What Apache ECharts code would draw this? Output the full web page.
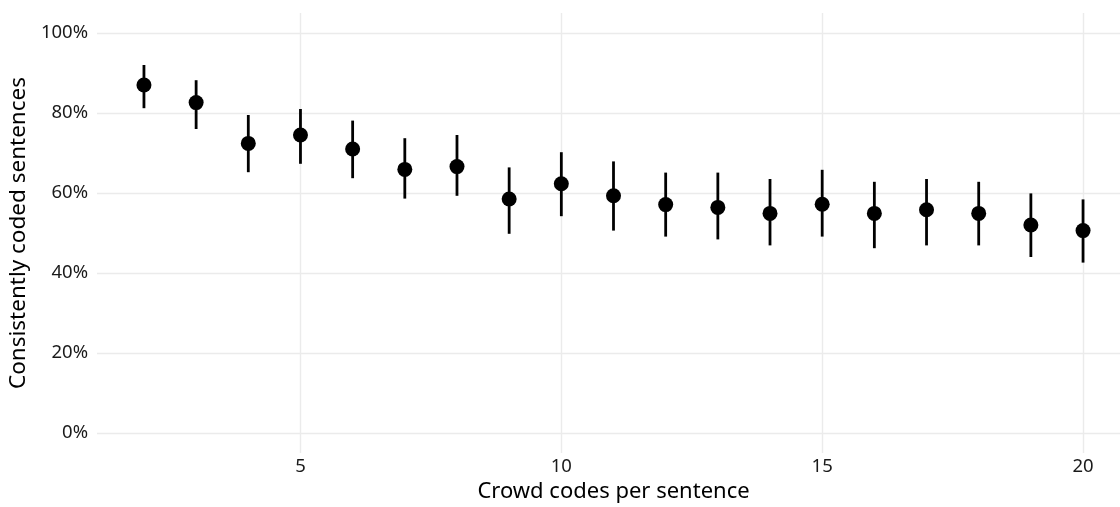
<!DOCTYPE html>
<html>
<head>
<meta charset="utf-8">
<script src="https://cdn.jsdelivr.net/npm/echarts@6/dist/echarts.min.js"></script>
<style>
  html, body { margin: 0; padding: 0; background: #fff; }
  #chart { width: 1120px; height: 507px; }
</style>
</head>
<body>
<div id="chart"></div>
<script>
// crowd codes per sentence
const codes = [2, 3, 4, 5, 6, 7, 8, 9, 10, 11, 12, 13, 14, 15, 16, 17, 18, 19, 20];
// share of consistently coded sentences (%)
const share = [87, 82.6, 72.4, 74.5, 71, 65.9, 66.6, 58.5, 62.3, 59.3, 57.1, 56.4, 54.9, 57.2, 54.9, 55.8, 54.9, 52, 50.6];
const lower = [81.2, 76, 65.2, 67.3, 63.7, 58.6, 59.3, 49.8, 54.2, 50.6, 49.1, 48.4, 46.9, 49.1, 46.2, 46.9, 46.9, 44, 42.6];
const upper = [92, 88.2, 79.5, 81, 78.1, 73.7, 74.5, 66.4, 70.2, 67.9, 65.1, 65.1, 63.5, 65.8, 62.8, 63.5, 62.8, 59.9, 58.4];

const xTicks = [5, 10, 15, 20];
const yTicks = [0, 20, 40, 60, 80, 100];

const font = '"Noto Sans", sans-serif';
const gridColor = '#ebebeb';

let chart = echarts.init(document.getElementById('chart'));

chart.setOption({
    animation: false,
    textStyle: {fontFamily: font},
    grid: {left: 97, right: -10, top: 13, bottom: 54, containLabel: false, outerBoundsMode: 'none'},
    xAxis: {
        type: 'value',
        min: 1.1,
        max: 20.9,
        name: 'Crowd codes per sentence',
        nameLocation: 'middle',
        nameGap: 27,
        nameTextStyle: {fontSize: 22, color: '#000', fontFamily: font},
        axisLine: {show: false},
        axisTick: {show: false, customValues: xTicks},
        axisLabel: {customValues: xTicks, fontSize: 18.5, color: '#1a1a1a', margin: 4},
        splitLine: {show: true, lineStyle: {color: gridColor, width: 1.4}}
    },
    yAxis: {
        type: 'value',
        min: -5,
        max: 105,
        name: 'Consistently coded sentences',
        nameLocation: 'middle',
        nameGap: 63,
        nameTextStyle: {fontSize: 22.5, color: '#000', fontFamily: font},
        axisLine: {show: false},
        axisTick: {show: false, customValues: yTicks},
        axisLabel: {customValues: yTicks, fontSize: 18.5, color: '#1a1a1a', margin: 9, formatter: '{value}%'},
        splitLine: {show: true, lineStyle: {color: gridColor, width: 1.4}}
    },
    series: [
        {
            type: 'custom',
            data: codes.map((c, i) => [c, lower[i], upper[i]]),
            renderItem: function (params, api) {
                let lo = api.coord([api.value(0), api.value(1)]);
                let hi = api.coord([api.value(0), api.value(2)]);
                return {
                    type: 'line',
                    shape: {x1: lo[0], y1: lo[1], x2: hi[0], y2: hi[1]},
                    style: {stroke: '#000', lineWidth: 2.8}
                };
            },
            z: 2
        },
        {
            type: 'scatter',
            data: codes.map((c, i) => [c, share[i]]),
            symbol: 'circle',
            symbolSize: 15,
            itemStyle: {color: '#000', opacity: 1},
            z: 3
        }
    ]
});
</script>
</body>
</html>
